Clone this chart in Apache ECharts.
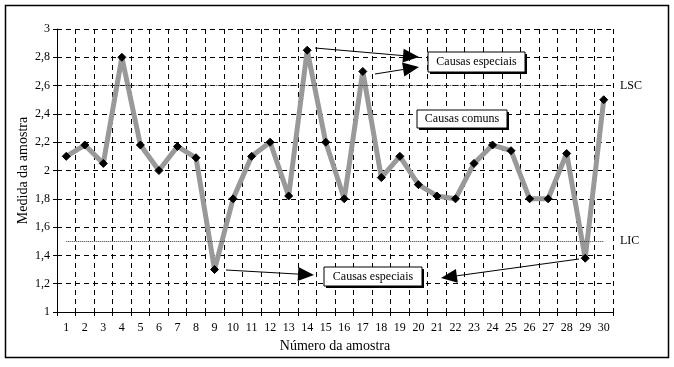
<!DOCTYPE html>
<html>
<head>
<meta charset="utf-8">
<script src="https://cdn.jsdelivr.net/npm/echarts@6/dist/echarts.min.js"></script>
<style>html,body{margin:0;padding:0;background:#fff}#c{width:674px;height:367px}</style>
</head>
<body>
<div id="c"></div>
<script>
const categories = ['1','2','3','4','5','6','7','8','9','10','11','12','13','14','15','16','17','18','19','20','21','22','23','24','25','26','27','28','29','30'];
const values = [2.1,2.18,2.05,2.8,2.18,2.0,2.17,2.09,1.3,1.8,2.1,2.2,1.82,2.85,2.2,1.8,2.7,1.95,2.1,1.9,1.82,1.8,2.05,2.18,2.14,1.8,1.8,2.12,1.38,2.5];
const lsc = 2.6;
const lic = 1.5;
const yMin = 1, yMax = 3, yStep = 0.2;

const F = '"Liberation Serif", "Times New Roman", serif';
const chart = echarts.init(document.getElementById('c'));

function box(x, y, w, h, text) {
  return {
    type: 'group', x: x, y: y, z: 100, children: [
      {type: 'rect', z: 100, shape: {x: 2, y: 2, width: w, height: h}, style: {fill: '#000'}},
      {type: 'rect', z: 101, shape: {x: 0, y: 0, width: w, height: h}, style: {fill: '#fff', stroke: '#000', lineWidth: 1}},
      {type: 'text', z: 102, x: w / 2, y: h / 2, style: {text: text, font: '12px ' + F, fill: '#000', align: 'center', verticalAlign: 'middle'}}
    ]
  };
}
function arrow(x1, y1, x2, y2) {
  const dx = x2 - x1, dy = y2 - y1, L = Math.sqrt(dx * dx + dy * dy);
  const ux = dx / L, uy = dy / L, len = 16, hw = 7;
  const bx = x2 - ux * len, by = y2 - uy * len;
  return [
    {type: 'line', z: 100, shape: {x1: x1, y1: y1, x2: bx, y2: by}, style: {stroke: '#000', lineWidth: 1}},
    {type: 'polygon', z: 100, shape: {points: [[x2, y2], [bx - uy * hw, by + ux * hw], [bx + uy * hw, by - ux * hw]]}, style: {fill: '#000'}}
  ];
}

const graphics = [
  {type: 'rect', shape: {x: 5.5, y: 5.5, width: 663, height: 352}, style: {fill: 'none', stroke: '#000', lineWidth: 1.5}, z: -1},
  {type: 'text', x: 620, y: 86, style: {text: 'LSC', font: '12px ' + F, fill: '#000', verticalAlign: 'middle'}},
  {type: 'text', x: 620, y: 241, style: {text: 'LIC', font: '12px ' + F, fill: '#000', verticalAlign: 'middle'}},
  ...arrow(315, 48, 419, 57),
  ...arrow(375, 74, 419, 67),
  ...arrow(226, 270, 314, 275),
  ...arrow(579, 259, 441, 278),
  box(428, 52, 97, 20, 'Causas especiais'),
  box(417, 110, 90, 18, 'Causas comuns'),
  box(324, 267, 98, 19, 'Causas especiais')
];

chart.setOption({
  animation: false,
  textStyle: {fontFamily: F},
  grid: {left: 57, right: 61, top: 29, bottom: 55},
  xAxis: {
    type: 'category', data: categories, boundaryGap: true,
    name: 'Número da amostra', nameLocation: 'middle', nameGap: 26,
    nameTextStyle: {fontFamily: F, fontSize: 14, color: '#000'},
    axisLine: {lineStyle: {color: '#000', width: 1}},
    axisTick: {show: true, inside: false, length: 4, lineStyle: {color: '#000'}},
    axisLabel: {color: '#000', fontFamily: F, fontSize: 12, margin: 10, interval: 0},
    splitLine: {show: true, lineStyle: {color: '#000', type: [5, 4], width: 1}}
  },
  yAxis: {
    type: 'value', min: yMin, max: yMax, interval: yStep,
    name: 'Medida da amostra', nameLocation: 'middle', nameGap: 27, nameMoveOverlap: false,
    nameTextStyle: {fontFamily: F, fontSize: 14, color: '#000'},
    axisLine: {show: true, lineStyle: {color: '#000', width: 1}},
    axisTick: {show: true, length: 4, lineStyle: {color: '#000'}},
    axisLabel: {color: '#000', fontFamily: F, fontSize: 12, margin: 7,
      formatter: v => String(Math.round(v * 10) / 10).replace('.', ',')},
    splitLine: {show: true, lineStyle: {color: '#000', type: [5, 4], width: 1}}
  },
  series: [{
    type: 'line', data: values,
    lineStyle: {color: '#999999', width: 5},
    symbol: 'diamond', symbolSize: 8, showAllSymbol: true,
    itemStyle: {color: '#000', borderColor: '#000'},
    markLine: {
      silent: true, symbol: 'none', label: {show: false},
      lineStyle: {color: '#333', type: [1, 1], width: 1},
      data: [
        [{coord: [0, lsc]}, {coord: [29, lsc]}],
        [{coord: [0, lic]}, {coord: [29, lic]}]
      ]
    },
    z: 3
  }],
  graphic: graphics
});
</script>
</body>
</html>
